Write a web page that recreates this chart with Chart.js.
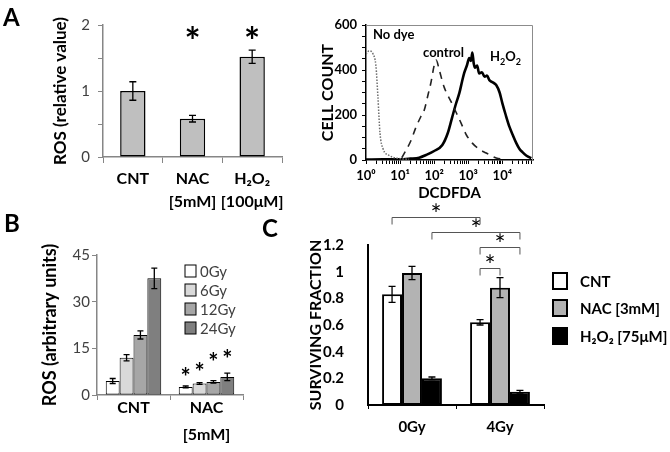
<!DOCTYPE html>
<html>
<head>
<meta charset="utf-8">
<script src="https://cdn.jsdelivr.net/npm/chart.js@4.4.0/dist/chart.umd.min.js"></script>
<style>
  body { margin: 0; background: #fff; width: 670px; height: 452px; position: relative; overflow: hidden; font-family: Lato, "DejaVu Sans", sans-serif; }
  .box { position: absolute; }
  .lbl { position: absolute; font-weight: bold; line-height: 1; color: #000; white-space: nowrap; }
</style>
</head>
<body>
<div class="box" style="left:0;top:0;width:300px;height:215px"><canvas id="chartA1"></canvas></div>
<div class="box" style="left:300px;top:0;width:250px;height:205px"><canvas id="chartA2"></canvas></div>
<div class="box" style="left:0;top:215px;width:250px;height:237px"><canvas id="chartB"></canvas></div>
<div class="box" style="left:300px;top:195px;width:370px;height:257px"><canvas id="chartC"></canvas></div>

<div class="lbl" style="left:3px;top:5px;font-size:24px">A</div>
<div class="lbl" style="left:4px;top:211px;font-size:24px">B</div>
<div class="lbl" style="left:262px;top:216px;font-size:24px">C</div>
<div class="lbl" style="left:373px;top:28px;font-size:13px">No dye</div>
<div class="lbl" style="left:423px;top:46px;font-size:13px">control</div>
<div class="lbl" style="left:490px;top:50px;font-size:13px">H<sub style="font-size:9px">2</sub>O<sub style="font-size:9px">2</sub></div>

<script>
// ---- panel A, bars
var catsA = ['CNT', ['NAC', '[5mM]'], ['H₂O₂', '[100μM]']];
var rosA = [1.0, 0.58, 1.52];
var rosAErr = [0.14, 0.05, 0.1];
var starsA = [null, 1.88, 1.88];

// ---- panel A, histogram (x = log10 of DCDFDA intensity)
var decadeLabels = ['10⁰', '10¹', '10²', '10³', '10⁴'];
var noDyeLog = [0, 0.09, 0.21, 0.29, 0.35, 0.41, 0.5, 0.68, 0.91, 1.26];
var noDyeCount = [470, 485, 470, 420, 280, 120, 50, 20, 8, 3];
var ctrlLog = [1.05, 1.18, 1.3, 1.47, 1.6, 1.71, 1.82, 1.91, 2.0, 2.06, 2.15, 2.29, 2.5, 2.65, 2.79, 2.95, 3.12, 3.3, 3.53, 3.82, 4.1];
var ctrlCount = [10, 45, 80, 147, 190, 222, 290, 347, 420, 444, 400, 325, 258, 210, 164, 110, 75, 50, 31, 9, 2];
var h2o2Log = [0, 0.5, 0.97, 1.3, 1.56, 1.76, 2.0, 2.24, 2.4, 2.53, 2.64, 2.74, 2.82, 2.88, 2.96, 3.03, 3.08, 3.12, 3.16, 3.2, 3.26, 3.32, 3.4, 3.48, 3.55, 3.62, 3.72, 3.82, 3.92, 4.0, 4.1, 4.21, 4.31, 4.41, 4.5, 4.59, 4.7, 4.85];
var h2o2Count = [2, 3, 3, 6, 10, 22, 40, 67, 120, 191, 250, 298, 350, 386, 420, 453, 440, 478, 430, 410, 420, 385, 390, 370, 375, 355, 345, 333, 300, 253, 200, 147, 110, 75, 50, 35, 20, 8];

// ---- panel B
var catsB = ['CNT', ['NAC', '[5mM]']];
var ros0Gy = [4.5, 2.6], err0Gy = [0.8, 0.3];
var ros6Gy = [12, 3.7], err6Gy = [1.0, 0.3];
var ros12Gy = [19.3, 4.2], err12Gy = [1.3, 0.4];
var ros24Gy = [37.5, 5.8], err24Gy = [3.3, 1.2];
var starsB = [[null, 7.2], [null, 9], [null, 12], [null, 13]];

// ---- panel C
var catsC = ['0Gy', '4Gy'];
var survCNT = [0.83, 0.62], errCNT = [0.06, 0.02];
var survNAC = [0.99, 0.88], errNAC = [0.05, 0.075];
var survH2O2 = [0.2, 0.1], errH2O2 = [0.01, 0.01];
// significance brackets: [dataset, category] to [dataset, category], height in y units
var bracketsC = [
  { from: [0, 0], to: [0, 1], level: 1.41 },
  { from: [2, 0], to: [2, 1], level: 1.3 },
  { from: [0, 1], to: [2, 1], level: 1.185 },
  { from: [0, 1], to: [1, 1], level: 1.03 }
];

Chart.defaults.font.family = 'Lato, "DejaVu Sans", sans-serif';
Chart.defaults.animation = false;

function drawStar(ctx, x, cy, size, weight) {
  ctx.save();
  ctx.font = weight + ' ' + size + 'px Lato';
  ctx.textAlign = 'center';
  ctx.textBaseline = 'alphabetic';
  ctx.fillStyle = '#000';
  ctx.fillText('*', x, cy + size * 0.57);
  ctx.restore();
}

var errorBars = {
  id: 'errorBars',
  afterDatasetsDraw: function (chart, args, opts) {
    var ctx = chart.ctx, y = chart.scales.y, cap = opts.cap || 3.5;
    chart.data.datasets.forEach(function (ds, i) {
      if (!ds.errors) return;
      chart.getDatasetMeta(i).data.forEach(function (bar, j) {
        var top = y.getPixelForValue(ds.data[j] + ds.errors[j]);
        var bot = y.getPixelForValue(ds.data[j] - ds.errors[j]);
        ctx.save();
        ctx.strokeStyle = '#000';
        ctx.lineWidth = opts.width || 1.3;
        ctx.beginPath();
        ctx.moveTo(bar.x, top); ctx.lineTo(bar.x, bot);
        ctx.moveTo(bar.x - cap, top); ctx.lineTo(bar.x + cap, top);
        ctx.moveTo(bar.x - cap, bot); ctx.lineTo(bar.x + cap, bot);
        ctx.stroke();
        ctx.restore();
      });
    });
  }
};

var starMarks = {
  id: 'starMarks',
  afterDatasetsDraw: function (chart, args, opts) {
    var y = chart.scales.y;
    chart.data.datasets.forEach(function (ds, i) {
      if (!ds.stars) return;
      chart.getDatasetMeta(i).data.forEach(function (bar, j) {
        if (ds.stars[j] == null) return;
        drawStar(chart.ctx, bar.x, y.getPixelForValue(ds.stars[j]), opts.size || 30, opts.weight || 'bold');
      });
    });
  }
};

var boxLegend = {
  id: 'boxLegend',
  afterDraw: function (chart, args, o) {
    var ctx = chart.ctx;
    chart.data.datasets.forEach(function (ds, i) {
      var cy = o.rows[i];
      ctx.save();
      ctx.fillStyle = ds.backgroundColor;
      ctx.fillRect(o.x, cy - o.h / 2, o.w, o.h);
      ctx.lineWidth = o.lw;
      ctx.strokeStyle = '#000';
      ctx.strokeRect(o.x, cy - o.h / 2, o.w, o.h);
      ctx.font = o.font;
      ctx.fillStyle = o.color;
      ctx.textBaseline = 'middle';
      ctx.fillText(ds.label, o.x + o.w + o.gap, cy + 1);
      ctx.restore();
    });
  }
};

var brackets = {
  id: 'brackets',
  afterDraw: function (chart, args, o) {
    var ctx = chart.ctx, y = chart.scales.y;
    o.list.forEach(function (b) {
      var xa = chart.getDatasetMeta(b.from[0]).data[b.from[1]].x;
      var xb = chart.getDatasetMeta(b.to[0]).data[b.to[1]].x;
      var py = Math.round(y.getPixelForValue(b.level)) + 0.5;
      ctx.save();
      ctx.strokeStyle = '#555';
      ctx.lineWidth = 1;
      ctx.beginPath();
      ctx.moveTo(xa, py + 7); ctx.lineTo(xa, py); ctx.lineTo(xb, py); ctx.lineTo(xb, py + 7);
      ctx.stroke();
      ctx.restore();
      drawStar(ctx, (xa + xb) / 2, py - 8, 26, 'normal');
    });
  }
};

var frameBox = {
  id: 'frameBox',
  afterDraw: function (chart) {
    var a = chart.chartArea, ctx = chart.ctx;
    ctx.save();
    ctx.strokeStyle = '#8c8c8c';
    ctx.lineWidth = 1;
    ctx.beginPath();
    ctx.moveTo(a.left, a.top + 0.5);
    ctx.lineTo(a.right - 0.5, a.top + 0.5);
    ctx.lineTo(a.right - 0.5, a.bottom);
    ctx.stroke();
    ctx.restore();
  }
};

function pts(xs, ys) {
  return xs.map(function (x, i) { return { x: x, y: ys[i] }; });
}

// ---------- A: ROS bars
new Chart(document.getElementById('chartA1'), {
  type: 'bar',
  data: {
    labels: catsA,
    datasets: [{
      data: rosA, errors: rosAErr, stars: starsA,
      backgroundColor: '#bfbfbf', borderColor: '#000', borderWidth: 1.5, borderSkipped: false,
      categoryPercentage: 0.85, barPercentage: 0.5
    }]
  },
  options: {
    responsive: true, maintainAspectRatio: false,
    layout: { padding: { left: 46, top: 25, right: 18, bottom: 0 } },
    plugins: { legend: { display: false }, tooltip: { enabled: false }, starMarks: { size: 38, weight: 'bold' }, errorBars: { cap: 3.5 } },
    scales: {
      x: {
        grid: { drawOnChartArea: false, tickLength: 6, color: '#868686' },
        border: { color: '#868686', width: 1.5 },
        ticks: { autoSkip: false, maxRotation: 0, minRotation: 0, color: '#000', font: { size: 16, weight: 'bold', lineHeight: 1.45 }, padding: 4 },
        afterFit: function (s) { s.height = 58; }
      },
      y: {
        min: 0, max: 2,
        grid: { drawOnChartArea: false, tickLength: 5, color: '#868686' },
        border: { color: '#868686', width: 1.5 },
        ticks: { stepSize: 0.5, color: '#404040', font: { size: 15 }, padding: 8,
          callback: function (v) { return Number.isInteger(v) ? v : ''; } },
        title: { display: true, text: 'ROS (relative value)', color: '#000', font: { size: 17, weight: 'bold' } },
        afterFit: function (s) { s.width = 57; }
      }
    }
  },
  plugins: [errorBars, starMarks]
});

// ---------- A: histogram
new Chart(document.getElementById('chartA2'), {
  type: 'line',
  data: {
    datasets: [
      { label: 'No dye', data: pts(noDyeLog, noDyeCount), borderColor: '#6e6e6e', borderWidth: 1.5, borderDash: [1.5, 1.5], pointRadius: 0, cubicInterpolationMode: 'monotone' },
      { label: 'control', data: pts(ctrlLog, ctrlCount), borderColor: '#222', borderWidth: 1.6, borderDash: [7, 6], pointRadius: 0, cubicInterpolationMode: 'monotone' },
      { label: 'H2O2', data: pts(h2o2Log, h2o2Count), borderColor: '#000', borderWidth: 2.6, pointRadius: 0, cubicInterpolationMode: 'monotone' }
    ]
  },
  options: {
    responsive: true, maintainAspectRatio: false,
    layout: { padding: { left: 14, top: 25, right: 17, bottom: 0 } },
    plugins: { legend: { display: false }, tooltip: { enabled: false } },
    scales: {
      x: {
        type: 'linear', min: 0, max: 4.9,
        afterBuildTicks: function (s) {
          var t = [];
          for (var d = 0; d <= 4; d++) {
            t.push({ value: d });
            for (var k = 2; k <= 9; k++) {
              var v = d + Math.log10(k);
              if (v < 4.9) t.push({ value: v });
            }
          }
          s.ticks = t;
        },
        grid: { drawOnChartArea: false, tickLength: 4, color: '#000' },
        border: { color: '#000', width: 1.5 },
        ticks: { autoSkip: false, maxRotation: 0, color: '#000', font: { size: 13, weight: 'bold' }, padding: 4,
          callback: function (v) { return Number.isInteger(v) ? decadeLabels[v] : ''; } },
        title: { display: true, text: 'DCDFDA', color: '#000', font: { size: 15, weight: 'bold' }, padding: { top: 0, bottom: 3 } },
        afterFit: function (s) { s.height = 45; }
      },
      y: {
        min: 0, max: 600,
        grid: { drawOnChartArea: false, tickLength: 4, color: '#000' },
        border: { color: '#000', width: 1.5 },
        ticks: { stepSize: 50, autoSkip: false, color: '#000', font: { size: 13, weight: 'bold' }, padding: 5,
          callback: function (v) { return v % 200 === 0 ? v : ''; } },
        title: { display: true, text: 'CELL COUNT', color: '#000', font: { size: 16, weight: 'bold' } },
        afterFit: function (s) { s.width = 52; }
      }
    }
  },
  plugins: [frameBox]
});

// ---------- B: ROS by dose
var fillsB = ['#ffffff', '#d9d9d9', '#a6a6a6', '#7f7f7f'];
new Chart(document.getElementById('chartB'), {
  type: 'bar',
  data: {
    labels: catsB,
    datasets: [
      { label: '0Gy', data: ros0Gy, errors: err0Gy, stars: starsB[0], backgroundColor: fillsB[0] },
      { label: '6Gy', data: ros6Gy, errors: err6Gy, stars: starsB[1], backgroundColor: fillsB[1] },
      { label: '12Gy', data: ros12Gy, errors: err12Gy, stars: starsB[2], backgroundColor: fillsB[2] },
      { label: '24Gy', data: ros24Gy, errors: err24Gy, stars: starsB[3], backgroundColor: fillsB[3] }
    ].map(function (d) {
      d.borderColor = '#000'; d.borderWidth = 1; d.borderSkipped = false;
      d.categoryPercentage = 0.76; d.barPercentage = 1;
      return d;
    })
  },
  options: {
    responsive: true, maintainAspectRatio: false,
    layout: { padding: { left: 35, top: 40, right: 7, bottom: 0 } },
    plugins: {
      legend: { display: false }, tooltip: { enabled: false },
      starMarks: { size: 24, weight: 'bold' }, errorBars: { cap: 3 },
      boxLegend: { x: 185, rows: [56, 75, 94, 113], w: 11, h: 12, lw: 1, gap: 4, font: '15px Lato', color: '#404040' }
    },
    scales: {
      x: {
        grid: { drawOnChartArea: false, tickLength: 5, color: '#868686' },
        border: { color: '#868686', width: 1.5 },
        ticks: { autoSkip: false, maxRotation: 0, color: '#000', font: { size: 16, weight: 'bold', lineHeight: 1.65 }, padding: -5 },
        afterFit: function (s) { s.height = 57; }
      },
      y: {
        min: 0, max: 45,
        grid: { drawOnChartArea: false, tickLength: 5, color: '#868686' },
        border: { color: '#868686', width: 1.5 },
        ticks: { stepSize: 15, color: '#404040', font: { size: 15 }, padding: 2 },
        title: { display: true, text: 'ROS (arbitrary units)', color: '#000', font: { size: 18, weight: 'bold' } },
        afterFit: function (s) { s.width = 62; }
      }
    }
  },
  plugins: [errorBars, starMarks, boxLegend]
});

// ---------- C: surviving fraction
new Chart(document.getElementById('chartC'), {
  type: 'bar',
  data: {
    labels: catsC,
    datasets: [
      { label: 'CNT', data: survCNT, errors: errCNT, backgroundColor: '#ffffff' },
      { label: 'NAC [3mM]', data: survNAC, errors: errNAC, backgroundColor: '#b3b3b3' },
      { label: 'H₂O₂ [75μM]', data: survH2O2, errors: errH2O2, backgroundColor: '#000000' }
    ].map(function (d) {
      d.borderColor = '#000'; d.borderWidth = 2; d.borderSkipped = false;
      d.categoryPercentage = 0.68; d.barPercentage = 1;
      return d;
    })
  },
  options: {
    responsive: true, maintainAspectRatio: false,
    layout: { padding: { left: 2, top: 50, right: 126, bottom: 0 } },
    plugins: {
      legend: { display: false }, tooltip: { enabled: false },
      errorBars: { cap: 3.5 },
      boxLegend: { x: 253, rows: [86, 113, 141], w: 14, h: 16, lw: 2, gap: 13, font: 'bold 15px Lato', color: '#000' },
      brackets: { list: bracketsC }
    },
    scales: {
      x: {
        grid: { drawOnChartArea: false, tickLength: 4, color: '#000' },
        border: { color: '#000', width: 2 },
        ticks: { color: '#000', font: { size: 15, weight: 'bold' }, padding: 9 },
        afterFit: function (s) { s.height = 47; }
      },
      y: {
        min: 0, max: 1.2,
        grid: { display: false },
        border: { color: '#000', width: 2 },
        ticks: { stepSize: 0.2, color: '#000', font: { size: 15, weight: 'bold' }, padding: 16,
          callback: function (v) { return +v.toFixed(1); } },
        title: { display: true, text: 'SURVIVING FRACTION', color: '#000', font: { size: 16, weight: 'bold' } },
        afterFit: function (s) { s.width = 66; }
      }
    }
  },
  plugins: [errorBars, boxLegend, brackets]
});
</script>
</body>
</html>
